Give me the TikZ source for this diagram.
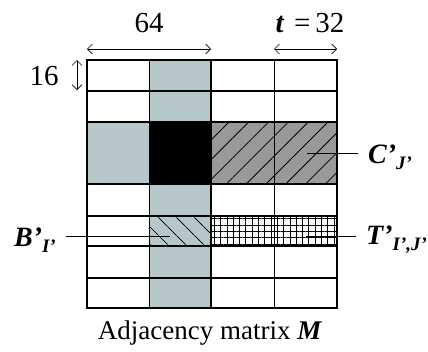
\documentclass[tikz,border=0pt]{standalone}
\usepackage{fontspec}
\setmainfont{Liberation Serif}
\usetikzlibrary{patterns.meta,arrows.meta}
\definecolor{colblue}{HTML}{B6C7CA}
\definecolor{hatchgray}{HTML}{999999}
\newcommand{\bsub}[2]{\textbf{\textit{#1}}\raisebox{-6pt}{\fontsize{19}{19}\selectfont\textbf{\textit{#2}}}}
\tikzset{
  dimarrow/.style={{Straight Barb[length=5pt,width=10pt]}-{Straight Barb[length=5pt,width=10pt]},line width=0.6pt},
  bigtext/.style={font=\fontsize{29}{32}\selectfont,inner sep=0pt},
  captext/.style={font=\fontsize{27}{30}\selectfont,inner sep=0pt},
  tilelab/.style={font=\fontsize{28}{30}\selectfont,inner ysep=0pt,inner xsep=10pt},
  leader/.style={line width=0.8pt},
}
\begin{document}
\begin{tikzpicture}[x=1pt,y=-1pt]
\useasboundingbox (0,0) rectangle (428,351);

% Fills: column J and row I of the matrix, the diagonal block, the two hatched tiles.
\fill[colblue] (149,60) rectangle (211,308);
\fill[colblue] (87,122) rectangle (149,184);
\fill[black] (149,122) rectangle (211,184);
\fill[hatchgray] (211,122) rectangle (337,184);
\fill[pattern={Lines[angle=45,distance=14pt,line width=0.8pt]}] (211,122) rectangle (337,184);
\fill[pattern={Lines[angle=-45,distance=13pt,line width=0.8pt]}] (149,216) rectangle (211,246);
\fill[pattern={Hatch[angle=0,distance=6.3pt,line width=0.5pt]}] (211,216) rectangle (337,246);

% Grid: thick row rules (none inside the merged row), thinner column rules.
\foreach \y in {91,122,184,216,246,278}
  \draw[line width=1.5pt] (87,\y) -- (337,\y);
\foreach \x in {149,274}
  \draw[line width=0.8pt] (\x,60) -- (\x,308);
\draw[line width=1.2pt] (211,60) -- (211,308);
\draw[line width=2pt] (87,60) rectangle (337,308);

% Dimensions.
\coordinate (wl) at (87,49);  \coordinate (wr) at (211,49);
\coordinate (tl) at (274,49); \coordinate (tr) at (337,49);
\coordinate (hu) at (77,60);  \coordinate (hd) at (77,90);
\draw[dimarrow] (wl) -- (wr);
\draw[dimarrow] (tl) -- (tr);
\draw[dimarrow] (hu) -- (hd);
\node[bigtext] (wlab) at (149,23) {64};
\node[bigtext] (tlab) at (310,23) {\textbf{\textit{t}}\,\,=\,32};
\node[bigtext] (hlab) at (44,76) {16};

% Tile labels with leader lines.
\node[tilelab,anchor=west] (clab) at (358,157) {\bsub{C’}{J’}};
\node[tilelab,anchor=east] (blab) at (66,240) {\bsub{B’}{I’}};
\node[tilelab,anchor=west] (tlab2) at (356,240) {\bsub{T’}{I’,J’}};
\coordinate (cin) at (307,153);
\coordinate (bin) at (170,236);
\coordinate (tin) at (306,236);
\draw[leader] (cin) -- (cin -| clab.west);
\draw[leader] (bin) -- (bin -| blab.east);
\draw[leader] (tin) -- (tin -| tlab2.west);

\node[captext] (cap) at (210,333) {Adjacency matrix \textbf{\textit{M}}};
\end{tikzpicture}
\end{document}
